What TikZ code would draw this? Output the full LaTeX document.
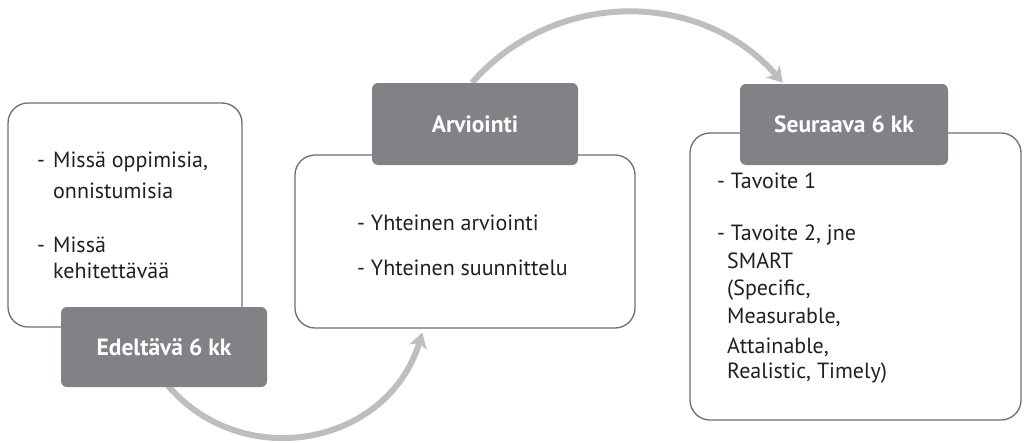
\documentclass[tikz,border=0pt]{standalone}
\usepackage{fontspec}
\setmainfont{PT Sans}
\usetikzlibrary{arrows.meta,calc,backgrounds}
\definecolor{labgray}{HTML}{808285}
\definecolor{boxline}{HTML}{6D6E71}
\definecolor{arcgray}{HTML}{BCBEC0}
\definecolor{txt}{HTML}{231F20}
\begin{document}
\begin{tikzpicture}[x=1pt,y=-1pt,
  whitebox/.style={draw=boxline, line width=1.3pt, fill=white, rounded corners=20pt, inner sep=0pt},
  darklabel/.style={fill=labgray, rounded corners=6pt, inner sep=0pt, text=white,
    font=\fontsize{23.5}{26}\selectfont\bfseries},
  body/.style={anchor=base west, inner sep=0pt, text=txt, font=\fontsize{22}{26}\selectfont},
  flow/.style={draw=arcgray, line width=6pt, -{Stealth[length=15pt,width=18pt,inset=4pt]}}
]
\useasboundingbox (0,0) rectangle (1025,442);
% white boxes
\node[whitebox, minimum width=234pt, minimum height=224pt] (b1) at (125,215) {};
\node[whitebox, minimum width=340pt, minimum height=173pt] (b2) at (465,241.5) {};
\node[whitebox, minimum width=331pt, minimum height=287pt] (b3) at (855.5,276.5) {};
% dark labels
\node[darklabel, minimum width=206pt, minimum height=80pt] (edel) at (164,347) {Edeltävä 6 kk};
\node[darklabel, minimum width=206pt, minimum height=82pt] (arv) at (475,124) {Arviointi};
\node[darklabel, minimum width=208pt, minimum height=81pt] (seu) at (844,124.5) {Seuraava 6 kk};
% body texts
\node[body] (t1a) at (37,167) {-};
\node[body] (t1b) at (53,167) {Missä oppimisia,};
\node[body] (t1c) at (53,198) {onnistumisia};
\node[body] (t1d) at (37,252) {-};
\node[body] (t1e) at (53,252) {Missä};
\node[body] (t1f) at (53,278) {kehitettävää};
\node[body] (t2a) at (357,230) {- Yhteinen arviointi};
\node[body] (t2b) at (357,275) {- Yhteinen suunnittelu};
\node[body] (t3a) at (717,188) {- Tavoite 1};
\node[body] (t3b) at (717,240) {- Tavoite 2, jne};
\node[body] (t3c) at (727,268) {SMART};
\node[body] (t3d) at (727,295) {(Specific,};
\node[body] (t3e) at (727,323) {Measurable,};
\node[body] (t3f) at (727,353) {Attainable,};
\node[body] (t3g) at (727,378) {Realistic, Timely)};
% arrows
\coordinate (s1) at (159,374);
\coordinate (e1) at ($(b2.south west)+(128,4)$);
\coordinate (s2) at ($(arv.north)+(-3,0)$);
\coordinate (e2) at ($(seu.north west)+(43,-1)$);
\begin{scope}[on background layer]
\draw[flow] (s1) .. controls +(71,101) and +(-36,118) .. (e1);
\draw[flow] (s2) .. controls +(82,-94) and +(-82,-94) .. (e2);
\end{scope}
\end{tikzpicture}
\end{document}
